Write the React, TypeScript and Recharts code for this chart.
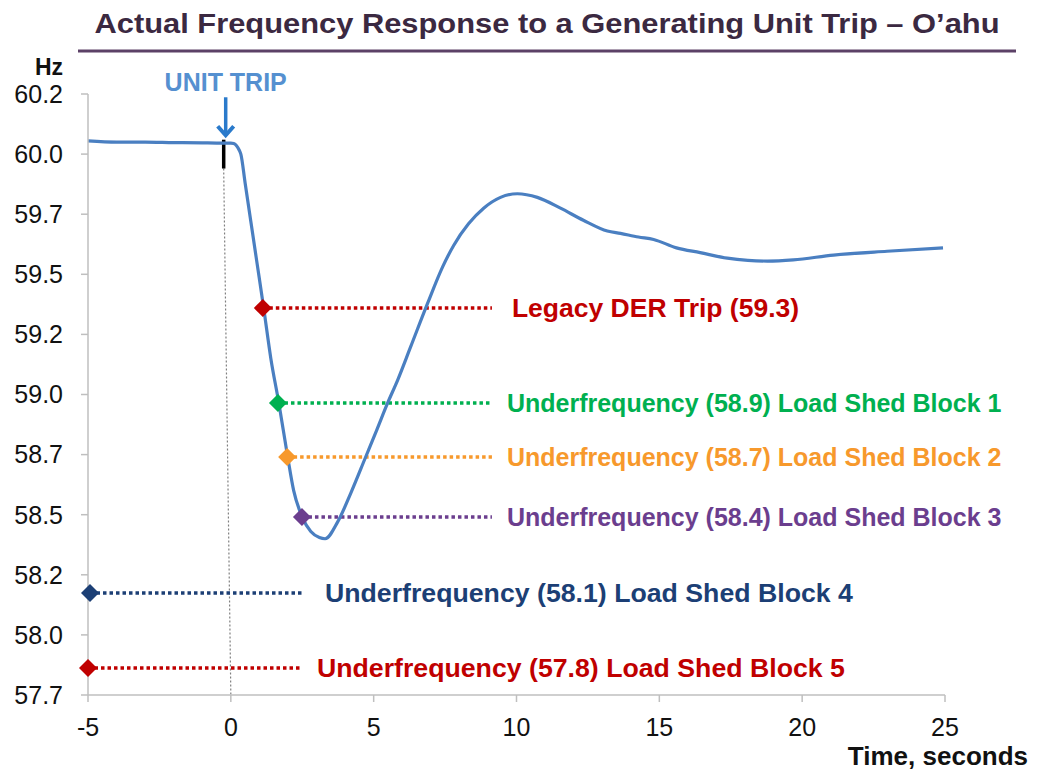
import React from 'react';
import { LineChart, Line, XAxis, YAxis, ReferenceLine, ReferenceDot } from 'recharts';

// Measured frequency response (seconds relative to trip, Hz)
const timeSec = [
  -5, -4, -3, -2, -1, -0.5, 0, 0.1, 0.2, 0.3, 0.35, 0.5, 0.7, 0.9, 1.15, 1.4, 1.68, 1.99, 2.2, 2.5,
  2.8, 3.1, 3.3, 3.74, 4.2, 4.72, 5.1, 5.49, 5.84, 6.3, 6.89, 7.41, 7.8, 8.32, 8.85, 9.44, 10.03,
  10.73, 11.54, 12.34, 13.18, 13.64, 14.27, 14.8, 15.6, 16.43, 17.38, 18.1, 18.78, 19.69, 21.1,
  22.97, 24.93,
];
const freqHz = [
  60.055, 60.05, 60.05, 60.048, 60.047, 60.046, 60.046, 60.044, 60.035, 60.015, 60.0, 59.88, 59.72,
  59.56, 59.36, 59.15, 58.965, 58.74, 58.6, 58.49, 58.43, 58.405, 58.4, 58.47, 58.59, 58.74,
  58.85, 58.965, 59.06, 59.2, 59.38, 59.53, 59.62, 59.71, 59.775, 59.82, 59.835, 59.82, 59.775,
  59.725, 59.68, 59.67, 59.655, 59.645, 59.61, 59.59, 59.567, 59.558, 59.555, 59.56, 59.58,
  59.596, 59.61,
];

const xTicks = [-5, 0, 5, 10, 15, 20, 25];
const xTickLabels = ['-5', '0', '5', '10', '15', '20', '25'];
const yTicks = [57.75, 58, 58.25, 58.5, 58.75, 59, 59.25, 59.5, 59.75, 60, 60.25];
const yTickLabels = ['57.7', '58.0', '58.2', '58.5', '58.7', '59.0', '59.2', '59.5', '59.7', '60.0', '60.2'];

// Trip / load-shed thresholds
const thresholdNames = [
  'Legacy DER Trip (59.3)',
  'Underfrequency (58.9) Load Shed Block 1',
  'Underfrequency (58.7) Load Shed Block 2',
  'Underfrequency (58.4) Load Shed Block 3',
  'Underfrequency (58.1) Load Shed Block 4',
  'Underfrequency (57.8) Load Shed Block 5',
];
const thresholdHz = [59.36, 58.965, 58.74, 58.49, 58.174, 57.862];
const thresholdMarkT = [1.12, 1.65, 1.97, 2.49, -4.93, -5.0];
const thresholdEndT = [9.14, 9.14, 9.14, 9.14, 2.49, 2.49];
const thresholdColors = ['#c00000', '#00b050', '#f7992c', '#6b3e8e', '#1c3f75', '#c00000'];
const thresholdLabelGap = [20, 15, 15, 15, 23, 15];
const thresholdFontSize = [26.5, 25, 25, 25, 26.7, 26.7];

const tripTime = -0.25;
const tripHz = [60.06, 59.94];

const FONT = '"Liberation Sans", Arial, sans-serif';

const responseData = timeSec.map((t, i) => ({ t, f: freqHz[i] }));
const thresholdData = thresholdNames.map((_, i) => [
  { t: thresholdMarkT[i], f: thresholdHz[i] },
  { t: thresholdEndT[i], f: thresholdHz[i] },
]);

const xLabel = (v: number) => xTickLabels[xTicks.indexOf(v)] ?? String(v);
const yLabel = (v: number) => yTickLabels[yTicks.indexOf(v)] ?? String(v);

const makeDiamond = (color: string) => (props: any) => {
  const { cx, cy, index } = props;
  if (index !== 0 || cx == null) return <g key={`dm-${index}`} />;
  const s = 9;
  return (
    <path
      key={`dm-${index}`}
      d={`M${cx},${cy - s} L${cx + s},${cy} L${cx},${cy + s} L${cx - s},${cy} Z`}
      fill={color}
    />
  );
};

const makeLabel = (text: string, color: string, gap: number, size: number) => (props: any) => {
  const { x, y, index } = props;
  if (index !== 1) return <g key={`lb-${index}`} />;
  return (
    <text
      key={`lb-${index}`}
      x={x + gap}
      y={y}
      dominantBaseline="central"
      fill={color}
      fontFamily={FONT}
      fontWeight="bold"
      fontSize={size}
    >
      {text}
    </text>
  );
};

const TripArrow = (props: any) => {
  const { cx, cy } = props;
  return (
    <g>
      <text
        x={cx}
        y={cy - 46}
        textAnchor="middle"
        fill="#5590d0"
        fontFamily={FONT}
        fontWeight="bold"
        fontSize={25}
      >
        UNIT TRIP
      </text>
      <line x1={cx} y1={cy - 40} x2={cx} y2={cy - 2} stroke="#2a7acb" strokeWidth={3.5} />
      <polyline
        points={`${cx - 8},${cy - 11} ${cx},${cy - 2} ${cx + 8},${cy - 11}`}
        fill="none"
        stroke="#2a7acb"
        strokeWidth={4}
        strokeLinejoin="miter"
      />
    </g>
  );
};

export default function App() {
  return (
    <div
      style={{
        position: 'absolute',
        left: 0,
        top: 0,
        width: 1043,
        height: 773,
        background: '#ffffff',
        fontFamily: FONT,
      }}
    >
      <LineChart
        width={1043}
        height={773}
        margin={{ top: 94, right: 98, bottom: 48, left: 8 }}
      >
        <XAxis
          type="number"
          dataKey="t"
          domain={[-5, 25]}
          ticks={xTicks}
          tickFormatter={xLabel}
          height={30}
          tickSize={7}
          tickMargin={16}
          axisLine={{ stroke: '#bfbfbf', strokeWidth: 1.5 }}
          tickLine={{ stroke: '#bfbfbf', strokeWidth: 1.5 }}
          tick={{ fill: '#111111', fontSize: 25, fontFamily: FONT }}
        />
        <YAxis
          type="number"
          domain={[57.75, 60.25]}
          ticks={yTicks}
          tickFormatter={yLabel}
          width={80}
          tickSize={7}
          tickMargin={18}
          axisLine={{ stroke: '#bfbfbf', strokeWidth: 1.5 }}
          tickLine={{ stroke: '#bfbfbf', strokeWidth: 1.5 }}
          tick={{ fill: '#111111', fontSize: 25, fontFamily: FONT }}
        />
        <ReferenceLine
          segment={[
            { x: tripTime, y: tripHz[1] },
            { x: 0, y: 57.75 },
          ]}
          stroke="#808080"
          strokeWidth={1.2}
          strokeDasharray="2 2"
        />
        <ReferenceLine
          segment={[
            { x: tripTime, y: tripHz[0] },
            { x: tripTime, y: tripHz[1] },
          ]}
          stroke="#000000"
          strokeWidth={3.5}
        />
        {thresholdData.map((d, i) => (
          <Line
            key={`thr-${i}`}
            data={d}
            dataKey="f"
            type="linear"
            stroke={thresholdColors[i]}
            strokeWidth={3.5}
            strokeDasharray="3.5 3"
            dot={false}
            activeDot={false}
            label={makeLabel(thresholdNames[i], thresholdColors[i], thresholdLabelGap[i], thresholdFontSize[i])}
            isAnimationActive={false}
          />
        ))}
        <Line
          data={responseData}
          dataKey="f"
          type="monotone"
          stroke="#4a7fc1"
          strokeWidth={3.2}
          dot={false}
          activeDot={false}
          isAnimationActive={false}
        />
        {thresholdData.map((d, i) => (
          <Line
            key={`mk-${i}`}
            data={[d[0]]}
            dataKey="f"
            stroke="none"
            dot={makeDiamond(thresholdColors[i])}
            activeDot={false}
            isAnimationActive={false}
          />
        ))}
        <ReferenceDot x={-0.18} y={60.07} r={0} shape={TripArrow} ifOverflow="visible" />
      </LineChart>
      <svg
        width={1043}
        height={773}
        style={{ position: 'absolute', left: 0, top: 0, pointerEvents: 'none' }}
      >
        <text
          x={547}
          y={33}
          textAnchor="middle"
          fill="#3b2941"
          fontFamily={FONT}
          fontWeight="bold"
          fontSize={28}
          textLength={905}
          lengthAdjust="spacingAndGlyphs"
        >
          Actual Frequency Response to a Generating Unit Trip – O’ahu
        </text>
        <line x1={78} y1={51} x2={1016} y2={51} stroke="#5c4167" strokeWidth={3} />
        <text x={63} y={75} textAnchor="end" fill="#111111" fontFamily={FONT} fontWeight="bold" fontSize={23}>
          Hz
        </text>
        <text x={1028} y={765} textAnchor="end" fill="#111111" fontFamily={FONT} fontWeight="bold" fontSize={26}>
          Time, seconds
        </text>
      </svg>
    </div>
  );
}
